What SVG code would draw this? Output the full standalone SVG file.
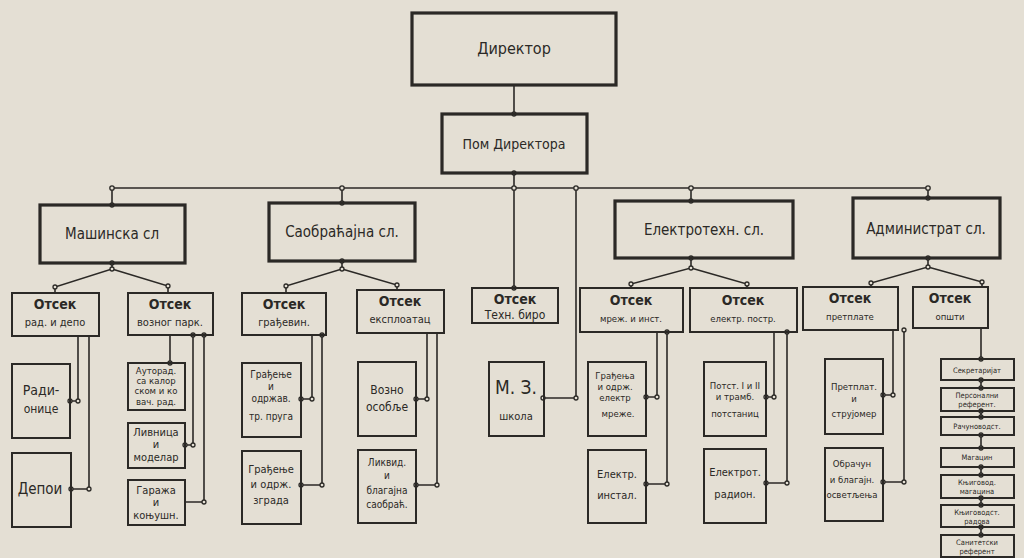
<svg xmlns="http://www.w3.org/2000/svg" width="1024" height="558" viewBox="0 0 1024 558">
<defs>
<style>
.bg{fill:#e4dfd4}
.box{fill:none;stroke:#2b2926;stroke-width:2}
.big{fill:none;stroke:#2b2926;stroke-width:3.2}
.ln{fill:none;stroke:#2b2926;stroke-width:1.6}
.dot{fill:#e4dfd4;stroke:#2b2926;stroke-width:1.3}
text{font-family:"DejaVu Sans Condensed","DejaVu Sans","Liberation Sans",sans-serif;fill:#2b2926;text-anchor:middle}
.t1{font-size:15px}
.t2{font-size:14px;font-weight:bold}
.t3{font-size:11px}
.t4{font-size:9.5px}
.t5{font-size:7.5px}
</style>
</defs>
<rect class="bg" x="0" y="0" width="1024" height="558"/>

<g id="connectors">
<path class="ln" d="M514 85V114M112 188H928M514 173V288M112 188V205M342 188V203M691 188V201M928 188V198M576 188V398H543"/>
<path class="ln" d="M112 263V269L55 287V293M112 269L168 286V293"/>
<path class="ln" d="M342 261V269L286 286V293M342 269L397 285V290"/>
<path class="ln" d="M691 258V268L631 284V288M691 268L747 284V288"/>
<path class="ln" d="M928 258V267L871 283V287M928 267L982 282V287"/>
<path class="ln" d="M78 336V401H70M89 336V489H71"/>
<path class="ln" d="M170 335V363M193 335V445H185M204 335V502H185"/>
<path class="ln" d="M312 335V399H301M322 335V485H301"/>
<path class="ln" d="M427 333V399H416M437 333V485H416"/>
<path class="ln" d="M657 332V397H646M667 332V484H646"/>
<path class="ln" d="M774 332V397H766M787 332V483H766"/>
<path class="ln" d="M893 330V395H883M904 330V482H883"/>
<path class="ln" d="M981 328V359M981 380V388M981 411V417M981 435V448M981 467V475M981 498V505M981 527V535"/>
<g>
<circle class="dot" cx="514" cy="114" r="2"/><circle class="dot" cx="514" cy="173" r="2"/>
<circle class="dot" cx="112" cy="188" r="2.2"/><circle class="dot" cx="342" cy="188" r="2.2"/><circle class="dot" cx="514" cy="188" r="2.2"/><circle class="dot" cx="576" cy="188" r="2.2"/><circle class="dot" cx="691" cy="188" r="2.2"/><circle class="dot" cx="928" cy="188" r="2.2"/>
<circle class="dot" cx="112" cy="205" r="2"/><circle class="dot" cx="342" cy="203" r="2"/><circle class="dot" cx="691" cy="201" r="2"/><circle class="dot" cx="928" cy="198" r="2"/><circle class="dot" cx="514" cy="288" r="2"/>
<circle class="dot" cx="112" cy="263" r="2"/><circle class="dot" cx="112" cy="269" r="2"/><circle class="dot" cx="55" cy="287" r="2"/><circle class="dot" cx="168" cy="286" r="2"/>
<circle class="dot" cx="342" cy="261" r="2"/><circle class="dot" cx="342" cy="269" r="2"/><circle class="dot" cx="286" cy="286" r="2"/><circle class="dot" cx="397" cy="285" r="2"/>
<circle class="dot" cx="691" cy="258" r="2"/><circle class="dot" cx="691" cy="268" r="2"/><circle class="dot" cx="631" cy="284" r="2"/><circle class="dot" cx="747" cy="284" r="2"/>
<circle class="dot" cx="928" cy="258" r="2"/><circle class="dot" cx="928" cy="267" r="2"/><circle class="dot" cx="871" cy="283" r="2"/><circle class="dot" cx="982" cy="282" r="2"/>
<circle class="dot" cx="78" cy="401" r="2"/><circle class="dot" cx="70" cy="401" r="2"/><circle class="dot" cx="89" cy="489" r="2"/><circle class="dot" cx="71" cy="489" r="2"/>
<circle class="dot" cx="170" cy="363" r="2"/><circle class="dot" cx="193" cy="445" r="2"/><circle class="dot" cx="185" cy="445" r="2"/><circle class="dot" cx="204" cy="502" r="2"/><circle class="dot" cx="193" cy="335" r="2"/><circle class="dot" cx="204" cy="335" r="2"/>
<circle class="dot" cx="312" cy="399" r="2"/><circle class="dot" cx="301" cy="399" r="2"/><circle class="dot" cx="322" cy="485" r="2"/><circle class="dot" cx="301" cy="485" r="2"/><circle class="dot" cx="322" cy="335" r="2"/>
<circle class="dot" cx="427" cy="399" r="2"/><circle class="dot" cx="416" cy="399" r="2"/><circle class="dot" cx="437" cy="485" r="2"/><circle class="dot" cx="416" cy="485" r="2"/>
<circle class="dot" cx="543" cy="398" r="2"/><circle class="dot" cx="576" cy="398" r="2"/>
<circle class="dot" cx="657" cy="397" r="2"/><circle class="dot" cx="646" cy="397" r="2"/><circle class="dot" cx="667" cy="484" r="2"/><circle class="dot" cx="646" cy="484" r="2"/><circle class="dot" cx="667" cy="332" r="2"/>
<circle class="dot" cx="774" cy="397" r="2"/><circle class="dot" cx="766" cy="397" r="2"/><circle class="dot" cx="787" cy="483" r="2"/><circle class="dot" cx="766" cy="483" r="2"/><circle class="dot" cx="787" cy="332" r="2"/>
<circle class="dot" cx="893" cy="395" r="2"/><circle class="dot" cx="883" cy="395" r="2"/><circle class="dot" cx="904" cy="482" r="2"/><circle class="dot" cx="883" cy="482" r="2"/><circle class="dot" cx="904" cy="330" r="2"/>
<circle class="dot" cx="981" cy="359" r="2"/><circle class="dot" cx="981" cy="380" r="2"/><circle class="dot" cx="981" cy="388" r="2"/><circle class="dot" cx="981" cy="411" r="2"/><circle class="dot" cx="981" cy="417" r="2"/><circle class="dot" cx="981" cy="435" r="2"/><circle class="dot" cx="981" cy="448" r="2"/><circle class="dot" cx="981" cy="467" r="2"/><circle class="dot" cx="981" cy="475" r="2"/><circle class="dot" cx="981" cy="498" r="2"/><circle class="dot" cx="981" cy="505" r="2"/><circle class="dot" cx="981" cy="527" r="2"/><circle class="dot" cx="981" cy="535" r="2"/>
</g>
</g>

<g id="direktor"><rect class="big" x="412" y="13" width="204" height="72"/><text class="t1" x="514" y="54" style="font-size:16px">Директор</text></g>
<g id="pom"><rect class="big" x="442" y="114" width="145" height="59"/><text class="t1" x="514" y="149" style="font-size:14px">Пом Директора</text></g>

<g id="masinska"><rect class="big" x="40" y="205" width="145" height="58"/><text class="t1" x="112" y="239">Машинска сл</text></g>
<g id="saobracajna"><rect class="big" x="269" y="203" width="146" height="58"/><text class="t1" x="342" y="237">Саобраћајна сл.</text></g>
<g id="elektrotehn"><rect class="big" x="615" y="201" width="178" height="57"/><text class="t1" x="704" y="235">Електротехн. сл.</text></g>
<g id="administrat"><rect class="big" x="853" y="198" width="147" height="60"/><text class="t1" x="926" y="234">Администрат сл.</text></g>

<g id="o-rad"><rect class="box" x="12" y="293" width="87" height="43"/><text class="t2" x="55" y="309">Отсек</text><text class="t3" x="55" y="326">рад. и депо</text></g>
<g id="o-voz"><rect class="box" x="128" y="293" width="85" height="42"/><text class="t2" x="170" y="309">Отсек</text><text class="t3" x="170" y="326">возног парк.</text></g>
<g id="o-gradj"><rect class="box" x="242" y="293" width="84" height="42"/><text class="t2" x="284" y="309">Отсек</text><text class="t3" x="284" y="326">грађевин.</text></g>
<g id="o-eksp"><rect class="box" x="357" y="290" width="87" height="43"/><text class="t2" x="400" y="306">Отсек</text><text class="t3" x="400" y="323">експлоатац</text></g>
<g id="o-teh"><rect class="box" x="472" y="288" width="86" height="35"/><text class="t2" x="515" y="304">Отсек</text><text class="t3" x="515" y="319" style="font-size:12px">Техн. биро</text></g>
<g id="o-mrez"><rect class="box" x="580" y="288" width="103" height="44"/><text class="t2" x="631" y="305">Отсек</text><text class="t4" x="631" y="322">мреж. и инст.</text></g>
<g id="o-postr"><rect class="box" x="690" y="288" width="107" height="44"/><text class="t2" x="743" y="305">Отсек</text><text class="t4" x="743" y="322">електр. постр.</text></g>
<g id="o-pretp"><rect class="box" x="803" y="287" width="95" height="43"/><text class="t2" x="850" y="303">Отсек</text><text class="t4" x="850" y="320">претплате</text></g>
<g id="o-opsti"><rect class="box" x="913" y="287" width="75" height="41"/><text class="t2" x="950" y="303">Отсек</text><text class="t4" x="950" y="320">општи</text></g>

<g id="radionice"><rect class="box" x="12" y="364" width="58" height="74"/><text class="t1" x="41" y="395" style="font-size:14px">Ради-</text><text class="t3" x="41" y="413" style="font-size:12px">онице</text></g>
<g id="depoi"><rect class="box" x="12" y="453" width="59" height="74"/><text class="t1" x="40" y="494">Депои</text></g>
<g id="autorad"><rect class="box" x="128" y="363" width="57" height="47"/><text class="t4" x="156" y="374">Ауторад.</text><text class="t4" x="156" y="384">са калор</text><text class="t4" x="156" y="394">ском и ко</text><text class="t4" x="156" y="405">вач. рад.</text></g>
<g id="livnica"><rect class="box" x="128" y="423" width="57" height="45"/><text class="t3" x="156" y="436">Ливница</text><text class="t3" x="156" y="448">и</text><text class="t3" x="156" y="461">моделар</text></g>
<g id="garaza"><rect class="box" x="128" y="480" width="57" height="45"/><text class="t3" x="156" y="494">Гаража</text><text class="t3" x="156" y="506">и</text><text class="t3" x="156" y="519">коњушн.</text></g>
<g id="gradj-pruga"><rect class="box" x="242" y="363" width="59" height="74"/><text class="t4" x="271" y="378" style="font-size:10px">Грађење</text><text class="t4" x="271" y="390" style="font-size:10px">и</text><text class="t4" x="271" y="402" style="font-size:10px">одржав.</text><text class="t4" x="271" y="420" style="font-size:10px">тр. пруга</text></g>
<g id="gradj-zgrada"><rect class="box" x="242" y="451" width="59" height="73"/><text class="t3" x="271" y="473">Грађење</text><text class="t3" x="271" y="488">и одрж.</text><text class="t3" x="271" y="504">зграда</text></g>
<g id="vozno"><rect class="box" x="358" y="362" width="58" height="74"/><text class="t3" x="387" y="394" style="font-size:12px">Возно</text><text class="t3" x="387" y="411" style="font-size:12px">особље</text></g>
<g id="likvid"><rect class="box" x="358" y="450" width="58" height="73"/><text class="t4" x="387" y="466" style="font-size:10px">Ликвид.</text><text class="t4" x="387" y="479" style="font-size:10px">и</text><text class="t4" x="387" y="494" style="font-size:10px">благајна</text><text class="t4" x="387" y="508" style="font-size:10px">саобраћ.</text></g>
<g id="mz"><rect class="box" x="489" y="362" width="55" height="74"/><text class="t1" x="516" y="394" style="font-size:19px">М. З.</text><text class="t3" x="516" y="420">школа</text></g>
<g id="gradj-mreze"><rect class="box" x="588" y="362" width="58" height="74"/><text class="t4" x="615" y="379">Грађења</text><text class="t4" x="615" y="390">и одрж.</text><text class="t4" x="615" y="401">електр</text><text class="t4" x="618" y="417">мреже.</text></g>
<g id="el-instal"><rect class="box" x="588" y="450" width="58" height="73"/><text class="t3" x="617" y="478">Електр.</text><text class="t3" x="617" y="499">инстал.</text></g>
<g id="potst"><rect class="box" x="704" y="362" width="62" height="74"/><text class="t4" x="735" y="389">Потст. I и II</text><text class="t4" x="735" y="400">и трамб.</text><text class="t4" x="735" y="417">потстаниц</text></g>
<g id="el-radion"><rect class="box" x="704" y="449" width="62" height="74"/><text class="t3" x="735" y="476">Електрот.</text><text class="t3" x="735" y="498">радион.</text></g>
<g id="pretplat"><rect class="box" x="825" y="359" width="58" height="75"/><text class="t4" x="854" y="390">Претплат.</text><text class="t4" x="854" y="402">и</text><text class="t4" x="854" y="417">струјомер</text></g>
<g id="obracun"><rect class="box" x="825" y="448" width="58" height="73"/><text class="t4" x="852" y="467">Обрачун</text><text class="t4" x="852" y="483">и благајн.</text><text class="t4" x="852" y="498">осветљења</text></g>

<g id="sekretarijat"><rect class="box" x="941" y="359" width="73" height="21"/><text class="t5" x="977" y="373">Секретаријат</text></g>
<g id="personalni"><rect class="box" x="941" y="388" width="73" height="23"/><text class="t5" x="977" y="398">Персонални</text><text class="t5" x="977" y="407">референт.</text></g>
<g id="racunovodst"><rect class="box" x="941" y="417" width="73" height="18"/><text class="t5" x="977" y="429">Рачуноводст.</text></g>
<g id="magacin"><rect class="box" x="941" y="448" width="73" height="19"/><text class="t5" x="977" y="460">Магацин</text></g>
<g id="knjigovod-mag"><rect class="box" x="941" y="475" width="73" height="23"/><text class="t5" x="977" y="485">Књиговод.</text><text class="t5" x="977" y="494">магацина</text></g>
<g id="knjigovod-rad"><rect class="box" x="941" y="505" width="73" height="22"/><text class="t5" x="977" y="515">Књиговодст.</text><text class="t5" x="977" y="524">радова</text></g>
<g id="sanitetski"><rect class="box" x="941" y="535" width="73" height="22"/><text class="t5" x="977" y="545">Санитетски</text><text class="t5" x="977" y="554">референт</text></g>
</svg>
